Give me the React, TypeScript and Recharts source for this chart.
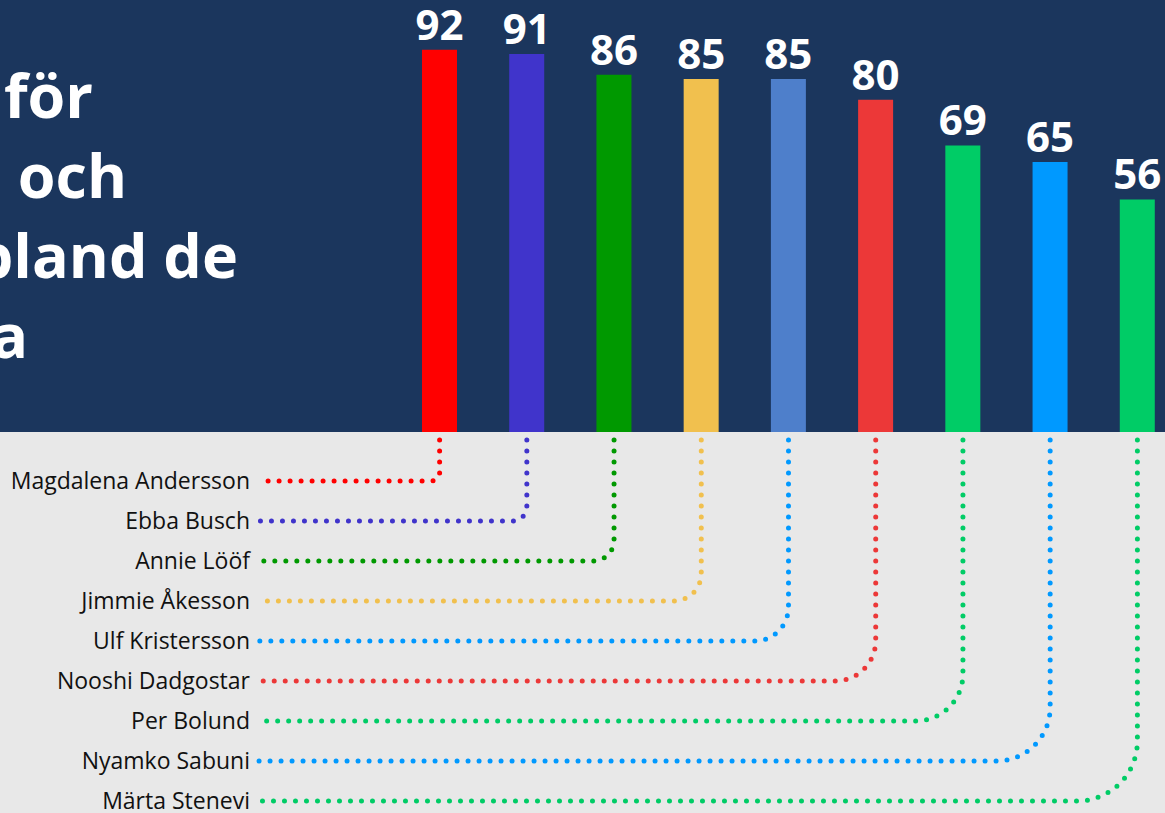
import { Bar, BarChart, Cell, Customized, LabelList, XAxis, YAxis } from "recharts"

const names = [
  "Magdalena Andersson",
  "Ebba Busch",
  "Annie Lööf",
  "Jimmie Åkesson",
  "Ulf Kristersson",
  "Nooshi Dadgostar",
  "Per Bolund",
  "Nyamko Sabuni",
  "Märta Stenevi",
]
const values = [92, 91, 86, 85, 85, 80, 69, 65, 56]
const barColors = ["#FF0000", "#4034CB", "#009900", "#F1C04E", "#4E7FCB", "#EC3838", "#00CC66", "#0099FF", "#00CC66"]
const lineColors = ["#FF0000", "#4034CB", "#009900", "#F1C04E", "#0099FF", "#EC3838", "#00CC66", "#0099FF", "#00CC66"]
const titleLines = ["för", "och", "bland de", "a"]

const data = names.map((name, i) => ({ name, value: values[i] }))

const NAVY = "#1B365D"
const GRAY = "#E8E8E8"
const FONT = "'Open Sans', sans-serif"

const NameTick = (props: any) => {
  const { x, index, payload } = props
  const rowY = 481 + index * 40
  const r = 8 + index * 6.5
  const d = `M ${x} 440 V ${rowY - r} A ${r} ${r} 0 0 1 ${x - r} ${rowY} H 259`
  return (
    <g>
      <path
        d={d}
        fill="none"
        stroke={lineColors[index]}
        strokeWidth={5}
        strokeDasharray="0 11"
        strokeLinecap="round"
      />
      <text x={250} y={rowY} dy="0.35em" textAnchor="end" fontSize={23} fill="#111" fontFamily={FONT}>
        {payload.value}
      </text>
    </g>
  )
}

const Title = () => (
  <g>
    {titleLines.map((t, i) => (
      <text
        key={t}
        x={[93, 127, 238, 28][i]}
        y={118 + i * 80}
        textAnchor="end"
        fontSize={61}
        fontWeight={700}
        fill="#fff"
        fontFamily={FONT}
      >
        {t}
      </text>
    ))}
  </g>
)

export default function App() {
  return (
    <div
      style={{
        position: "absolute",
        left: 0,
        top: 0,
        width: 1165,
        height: 813,
        overflow: "hidden",
        background: `linear-gradient(to bottom, ${NAVY} 0px, ${NAVY} 432px, ${GRAY} 432px, ${GRAY} 813px)`,
      }}
    >
      <BarChart width={1181} height={813} data={data} margin={{ top: 0, right: 0, left: 396, bottom: 0 }}>
        <XAxis
          dataKey="name"
          height={381}
          axisLine={false}
          tickLine={false}
          interval={0}
          tick={<NameTick />}
        />
        <YAxis hide domain={[0, 104]} />
        <Bar dataKey="value" barSize={35} isAnimationActive={false}>
          {data.map((_, i) => (
            <Cell key={i} fill={barColors[i]} />
          ))}
          <LabelList
            dataKey="value"
            position="top"
            offset={10}
            fill="#fff"
            fontSize={42}
            fontWeight={700}
            fontFamily={FONT}
          />
        </Bar>
        <Customized component={Title} />
      </BarChart>
    </div>
  )
}
